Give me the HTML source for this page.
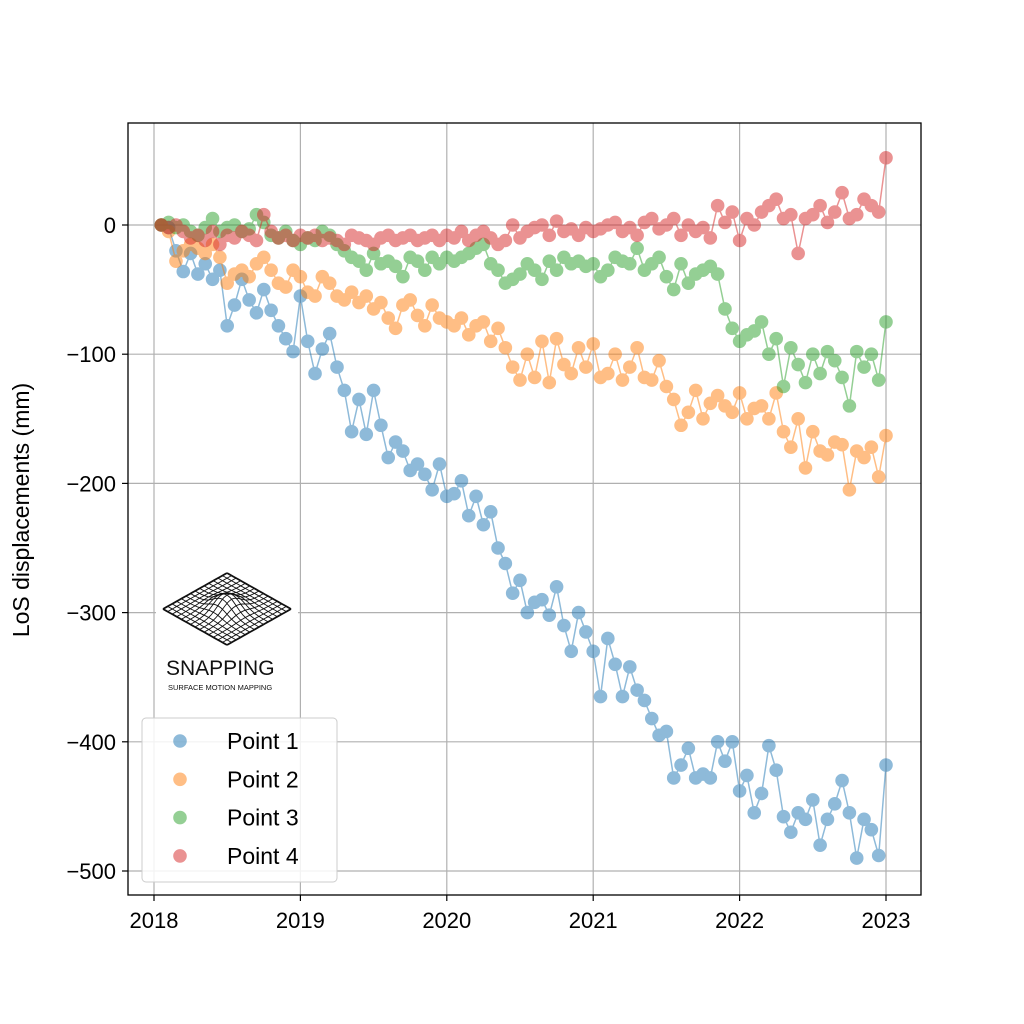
<!DOCTYPE html>
<html><head><meta charset="utf-8"><style>
body{margin:0;background:#fff;}
svg{display:block;font-family:"Liberation Sans","DejaVu Sans",sans-serif;}
</style></head><body>
<svg id="chart" width="1024" height="1024" viewBox="0 0 1024 1024">
<rect x="0" y="0" width="1024" height="1024" fill="#fff"/>
<g id="grid"></g>
<g id="series"></g>
<g id="logo"></g>
<rect x="128" y="123" width="793" height="772" fill="none" stroke="#000" stroke-width="1.3"/>
<g id="ticks"></g>
<text x="29" y="510" font-size="23" text-anchor="middle" transform="rotate(-90 29 510)">LoS displacements (mm)</text>
<g id="legend"></g>
</svg>
<script>
const years=[2018,2019,2020,2021,2022,2023];
const yTicks=[0,-100,-200,-300,-400,-500];
const seriesNames=["Point 1","Point 2","Point 3","Point 4"];
const colors=["#1f77b4","#ff7f0e","#2ca02c","#d62728"];
const p1=[0,-2,-20,-36,-22,-38,-30,-42,-35,-78,-62,-42,-58,-68,-50,-66,-78,-88,-98,-55,
-90,-115,-96,-84,-110,-128,-160,-135,-162,-128,-155,-180,-168,-175,-190,-185,-193,-205,-185,-210,
-208,-198,-225,-210,-232,-222,-250,-262,-285,-275,-300,-292,-290,-302,-280,-310,-330,-300,-315,-330,
-365,-320,-340,-365,-342,-360,-368,-382,-395,-392,-428,-418,-405,-428,-425,-428,-400,-415,-400,-438,
-426,-455,-440,-403,-422,-458,-470,-455,-460,-445,-480,-460,-448,-430,-455,-490,-460,-468,-488,-418];
const p2=[0,-5,-28,-20,-15,-18,-22,-15,-25,-45,-38,-35,-40,-30,-25,-35,-45,-48,-35,-40,
-52,-55,-40,-45,-55,-58,-52,-60,-55,-65,-60,-72,-80,-62,-58,-70,-78,-62,-72,-75,
-78,-72,-85,-78,-75,-90,-80,-95,-110,-120,-100,-118,-90,-122,-88,-108,-115,-95,-110,-92,
-118,-115,-100,-120,-110,-95,-118,-120,-105,-125,-135,-155,-145,-128,-150,-138,-132,-140,-145,-130,
-150,-142,-140,-150,-130,-160,-172,-150,-188,-160,-175,-178,-168,-170,-205,-175,-180,-172,-195,-163];
const p3=[0,2,-2,0,-5,-8,-2,5,-5,-2,0,-5,-3,8,2,-8,-10,-5,-12,-15,
-10,-12,-5,-8,-15,-20,-25,-28,-35,-22,-30,-28,-32,-40,-25,-28,-35,-25,-30,-25,
-28,-25,-22,-18,-15,-30,-35,-45,-42,-38,-30,-35,-42,-28,-35,-25,-30,-28,-32,-30,
-40,-35,-25,-28,-30,-18,-35,-30,-25,-40,-50,-30,-45,-38,-35,-32,-38,-65,-80,-90,
-85,-82,-75,-100,-88,-125,-95,-108,-122,-100,-115,-98,-105,-118,-140,-98,-110,-100,-120,-75];
const p4=[0,-2,0,-5,-10,-8,-12,-5,-15,-8,-10,-5,-8,-12,8,-5,-10,-8,-12,-8,
-10,-8,-12,-10,-12,-15,-8,-10,-12,-15,-10,-8,-12,-10,-8,-12,-10,-8,-12,-8,
-10,-5,-12,-8,-5,-10,-15,-12,0,-10,-5,-2,0,-8,3,-5,-3,-8,-2,-5,
-3,0,2,-5,-2,-8,2,5,-3,0,5,-8,0,-5,-2,-10,15,2,10,-12,
5,0,10,15,20,5,8,-22,5,8,15,2,10,25,5,8,20,15,10,52];
const allSeries=[p1,p2,p3,p4];
const NS="http://www.w3.org/2000/svg";
function X(t){return 154+(t-2018)*146.4;}
function Y(v){return 225-v*1.292;}
function mk(tag,attrs,parent){const e=document.createElementNS(NS,tag);for(const k in attrs)e.setAttribute(k,attrs[k]);parent.appendChild(e);return e;}
const grid=document.getElementById('grid'),ticks=document.getElementById('ticks');
years.forEach(y=>{
  const l=mk('line',{x1:X(y),x2:X(y),y1:123,y2:895,stroke:'#b0b0b0','stroke-width':1.2},grid);
  
  
  const tk=mk('line',{x1:X(y),x2:X(y),y1:895,y2:901,stroke:'#000','stroke-width':1.2},ticks);
  
  
  const tx=mk('text',{x:X(y),y:928,'font-size':22,'text-anchor':'middle'},ticks);tx.textContent=y;
  
  
});
yTicks.forEach(v=>{
  const l=mk('line',{x1:128,x2:921,y1:Y(v),y2:Y(v),stroke:'#b0b0b0','stroke-width':1.2},grid);
  
  
  const tk=mk('line',{x1:122,x2:128,y1:Y(v),y2:Y(v),stroke:'#000','stroke-width':1.2},ticks);
  
  
  const tx=mk('text',{x:116,y:Y(v)+8,'font-size':22,'text-anchor':'end'},ticks);tx.textContent=v===0?'0':'\u2212'+Math.abs(v);
  
  
});
const sg=document.getElementById('series');
allSeries.forEach((arr,si)=>{
  const g=mk('g',{opacity:0.5},sg);
  
  
  const pts=arr.map((v,i)=>X(2018.05+0.05*i).toFixed(1)+','+Y(v).toFixed(1)).join(' ');
  const pl=mk('polyline',{points:pts,fill:'none',stroke:colors[si],'stroke-width':1.5},g);
  
  
  arr.forEach((v,i)=>{
    const c=mk('circle',{cx:X(2018.05+0.05*i),cy:Y(v),r:6.2,fill:colors[si],stroke:colors[si],'stroke-width':1.2},g);
    
    
  });
});
const lg=document.getElementById('logo');
mk('rect',{x:156,y:563,width:142,height:134,fill:'#fff'},lg);
const L=[163,609],T=[227,573],R=[291,609],B=[227,645];
function lerp(a,b,t){return [a[0]+(b[0]-a[0])*t,a[1]+(b[1]-a[1])*t];}
const N=14;
for(let i=0;i<=N;i++){
  const t=i/N;
  let a=lerp(L,T,t),b=lerp(B,R,t);
  let d='M';for(let k=0;k<=20;k++){const s=k/20;const p=lerp(a,b,s);const bump=-14*Math.exp(-((t-0.5)**2+(s-0.5)**2)/0.04);d+=(k?'L':'')+p[0].toFixed(1)+','+(p[1]+bump).toFixed(1);}
  mk('path',{d:d,fill:'none',stroke:'#111','stroke-width':i==0||i==N?1.8:0.9},lg);
  a=lerp(L,B,t);b=lerp(T,R,t);
  d='M';for(let k=0;k<=20;k++){const s=k/20;const p=lerp(a,b,s);const bump=-14*Math.exp(-((t-0.5)**2+(s-0.5)**2)/0.04);d+=(k?'L':'')+p[0].toFixed(1)+','+(p[1]+bump).toFixed(1);}
  mk('path',{d:d,fill:'none',stroke:'#111','stroke-width':i==0||i==N?1.8:0.9},lg);
}
const lt=mk('text',{x:166,y:675,'font-size':21,fill:'#111'},lg);lt.textContent='SNAPPING';
const ls=mk('text',{x:168,y:690,'font-size':7.5,fill:'#111'},lg);ls.textContent='SURFACE MOTION MAPPING';
const leg=document.getElementById('legend');
const box=mk('rect',{x:142,y:718,width:195,height:164,rx:4,fill:'#fff','fill-opacity':0.85,stroke:'#ccc','stroke-width':1},leg);


seriesNames.forEach((n,i)=>{
  const y=741+i*38.3;
  const c=mk('circle',{cx:180,cy:y,r:6.2,fill:colors[i],stroke:colors[i],'stroke-width':1.2,opacity:0.5},leg);
  
  
  const t=mk('text',{x:227,y:y+8,'font-size':23},leg);t.textContent=n;
  
  
});
</script>
</body></html>
